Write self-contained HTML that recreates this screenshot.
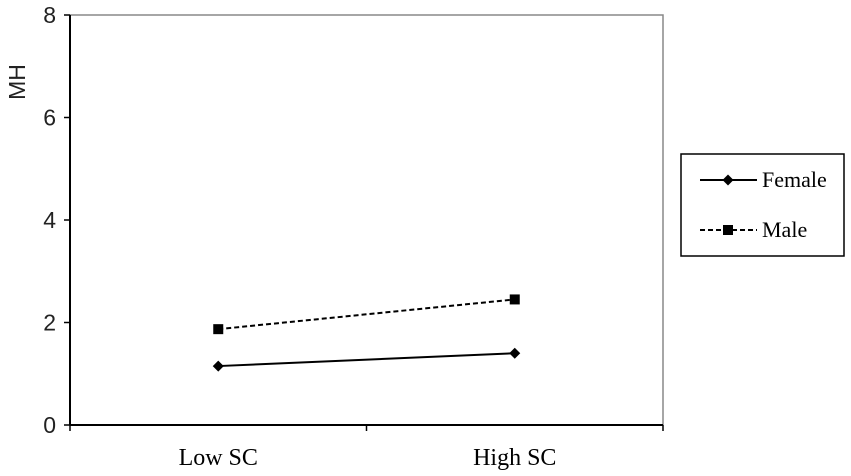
<!DOCTYPE html>
<html><head><meta charset="utf-8"><style>
html,body{margin:0;padding:0;background:#fff;width:851px;height:476px;overflow:hidden}
</style></head><body>
<svg id="chart" width="851" height="476" xmlns="http://www.w3.org/2000/svg"></svg>
<script>
const categories = ["Low SC", "High SC"];
const femaleValues = [1.15, 1.4];
const maleValues = [1.87, 2.45];
const yTicks = [0, 2, 4, 6, 8];
const seriesNames = ["Female", "Male"];

const NS = "http://www.w3.org/2000/svg";
const svg = document.getElementById("chart");
const L = 70, R = 663, T = 15, B = 425, yMax = 8;
const y = v => B - (v / yMax) * (B - T);
const bw = (R - L) / categories.length;
const x = i => L + bw * (i + 0.5);
function el(tag, attrs, parent) {
  const e = document.createElementNS(NS, tag);
  for (const k in attrs) e.setAttribute(k, attrs[k]);
  (parent || svg).appendChild(e);
  return e;
}
let e = el("path", {d:`M${L},${T} H${R} V${B}`, fill:"none", stroke:"#888", "stroke-width":1.5});


e = el("line", {x1:L, y1:T, x2:L, y2:B, stroke:"#000", "stroke-width":2});


e = el("line", {x1:L, y1:B, x2:R, y2:B, stroke:"#000", "stroke-width":2});


yTicks.forEach(t => {
  const tk = el("line", {x1:L-6, y1:y(t), x2:L, y2:y(t), stroke:"#000", "stroke-width":1.5});
  
  
  const tx = el("text", {x:L-14, y:y(t)+8, "text-anchor":"end", "font-family":"Liberation Sans, sans-serif", "font-size":23, fill:"#222"});
  tx.textContent = t;
  
  
});
for (let i = 0; i <= categories.length; i++) {
  const tk = el("line", {x1:L+bw*i, y1:B, x2:L+bw*i, y2:B+6, stroke:"#000", "stroke-width":1.5});
  
  
}
categories.forEach((c, i) => {
  const tx = el("text", {x:x(i), y:465, "text-anchor":"middle", "font-family":"Liberation Serif, serif", "font-size":24, fill:"#000"});
  tx.textContent = c;
  
  
});
const yt = el("text", {x:0, y:0, transform:"translate(25,82) rotate(-90)", "text-anchor":"middle", "font-family":"Liberation Sans, sans-serif", "font-size":23, fill:"#222"});
yt.textContent = "MH";



function diamond(cx, cy, s, p) { return el("polygon", {points:`${cx},${cy-s} ${cx+s},${cy} ${cx},${cy+s} ${cx-s},${cy}`, fill:"#000"}, p); }
function square(cx, cy, s, p) { return el("rect", {x:cx-s, y:cy-s, width:2*s, height:2*s, fill:"#000"}, p); }

const fl = el("polyline", {points: femaleValues.map((v,i)=>`${x(i)},${y(v)}`).join(" "), fill:"none", stroke:"#000", "stroke-width":2});


femaleValues.forEach((v,i) => {
  const m = diamond(x(i), y(v), 5.5);
  
  
});
const ml = el("polyline", {points: maleValues.map((v,i)=>`${x(i)},${y(v)}`).join(" "), fill:"none", stroke:"#000", "stroke-width":2, "stroke-dasharray":"5,3"});


maleValues.forEach((v,i) => {
  const m = square(x(i), y(v), 5);
  
  
});

const lg = el("g", {});


el("rect", {x:681, y:154, width:163, height:102, fill:"#fff", stroke:"#000", "stroke-width":1.5}, lg);
const le1 = el("g", {}, lg);


el("line", {x1:700, y1:180, x2:757, y2:180, stroke:"#000", "stroke-width":2}, le1);
diamond(728, 180, 5.5, le1);
const t1 = el("text", {x:762, y:187, "font-family":"Liberation Serif, serif", "font-size":22}, le1);
t1.textContent = seriesNames[0];
const le2 = el("g", {}, lg);


el("line", {x1:700, y1:230, x2:757, y2:230, stroke:"#000", "stroke-width":2, "stroke-dasharray":"5,3"}, le2);
square(728, 230, 5, le2);
const t2 = el("text", {x:762, y:237, "font-family":"Liberation Serif, serif", "font-size":22}, le2);
t2.textContent = seriesNames[1];
</script>
</body></html>
